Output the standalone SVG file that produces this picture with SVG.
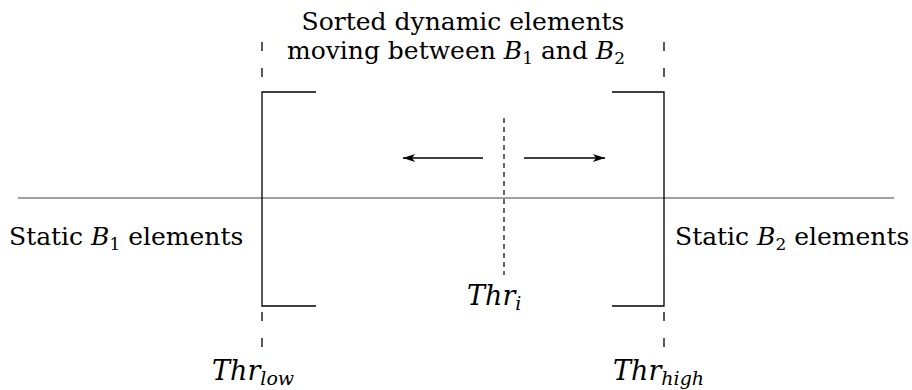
<svg xmlns="http://www.w3.org/2000/svg" width="912" height="390" viewBox="0 0 912 390">
<defs>
<marker id="ah" viewBox="0 0 12 8" refX="12" refY="4" markerWidth="12" markerHeight="8" markerUnits="userSpaceOnUse" orient="auto">
<path d="M0,0 L12,4 L0,8 L3,4 Z" fill="#000"/>
</marker>
</defs>
<style>
text{font-family:'DejaVu Serif',serif;font-size:25px;fill:#000}
.i{font-style:italic}
.m{font-size:27px;font-style:italic}
.br{stroke:#000;stroke-width:1.3;fill:none}
.dl{stroke:#000;stroke-width:1.3;fill:none;stroke-dasharray:9 17}
.dc{stroke:#000;stroke-width:1.2;fill:none;stroke-dasharray:5 4}
.ar{stroke:#000;stroke-width:1.3;fill:none;marker-end:url(#ah)}
</style>
<rect width="912" height="390" fill="#fff"/>
<g id="axis"><line x1="18" y1="198" x2="894" y2="198" stroke="#444" stroke-width="1.1"/></g>
<g id="bracket-low">
<path class="br" d="M316,92 H262 V306 H316"/>
</g>
<g id="bracket-high">
<path class="br" d="M612,92 H664 V306 H612"/>
</g>
<g id="connectors">
<line class="dl" x1="262" y1="42" x2="262" y2="92"/>
<line class="dl" x1="664" y1="42" x2="664" y2="92"/>
<line class="dl" x1="262" y1="312" x2="262" y2="356"/>
<line class="dl" x1="664" y1="312" x2="664" y2="356"/>
<line class="dc" x1="504" y1="118" x2="504" y2="275"/>
<line class="ar" x1="483" y1="158" x2="403" y2="158"/>
<line class="ar" x1="524" y1="158" x2="605" y2="158"/>
</g>
<g id="title">
<text x="463" y="30" text-anchor="middle">Sorted dynamic elements</text>
<text x="456" y="59" text-anchor="middle">moving between <tspan class="i">B</tspan><tspan font-size="17" dy="5">1</tspan><tspan dy="-5"> and </tspan><tspan class="i">B</tspan><tspan font-size="17" dy="5">2</tspan></text>
</g>
<g id="static-b1">
<text x="9" y="245">Static <tspan class="i">B</tspan><tspan font-size="17" dy="5">1</tspan><tspan dy="-5"> elements</tspan></text>
</g>
<g id="static-b2">
<text x="675" y="245">Static <tspan class="i">B</tspan><tspan font-size="17" dy="5">2</tspan><tspan dy="-5"> elements</tspan></text>
</g>
<g id="thr-low">
<text class="m" x="212" y="380">Thr<tspan font-size="19" dy="5">low</tspan></text>
</g>
<g id="thr-i">
<text class="m" x="467" y="305">Thr<tspan font-size="19" dy="5">i</tspan></text>
</g>
<g id="thr-high">
<text class="m" x="613" y="380">Thr<tspan font-size="19" dy="5">high</tspan></text>
</g>
</svg>
